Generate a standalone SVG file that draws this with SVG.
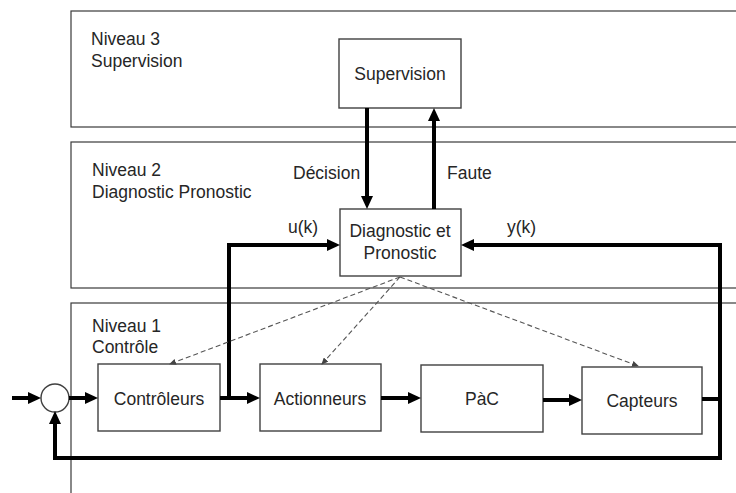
<svg xmlns="http://www.w3.org/2000/svg" width="736" height="493" viewBox="0 0 736 493">
<style>
  .lvl { fill: none; stroke: #3a3a3a; stroke-width: 1.2; }
  .box { fill: #ffffff; stroke: #404040; stroke-width: 1.4; }
  text { font-family: "Liberation Sans", Arial, sans-serif; font-size: 17.5px; fill: #262626; }
  .c { text-anchor: middle; }
  .thick { fill: none; stroke: #000000; stroke-width: 4; stroke-linejoin: miter; }
  .dash { fill: none; stroke: #555555; stroke-width: 1.1; stroke-dasharray: 5 3; }
</style>
<defs>
  <marker id="ah" markerUnits="userSpaceOnUse" markerWidth="13" markerHeight="12" refX="5" refY="6" orient="auto">
    <path d="M0,0 L13,6 L0,12 z" fill="#000000"/>
  </marker>
  <marker id="dh" markerUnits="userSpaceOnUse" markerWidth="7" markerHeight="6" refX="6" refY="3" orient="auto">
    <path d="M0,0 L7,3 L0,6 z" fill="#444444"/>
  </marker>
</defs>

<rect fill="#ffffff" x="0" y="0" width="736" height="493"/>

<g id="niveau3">
  <rect class="lvl" x="71" y="11" width="700" height="116"/>
  <text x="91" y="45">Niveau 3</text>
  <text x="91" y="67">Supervision</text>
</g>
<g id="niveau2">
  <rect class="lvl" x="71" y="142" width="700" height="146"/>
  <text x="92" y="176">Niveau 2</text>
  <text x="92" y="198">Diagnostic Pronostic</text>
</g>
<g id="niveau1">
  <rect class="lvl" x="71" y="303" width="700" height="220"/>
  <text x="92" y="332">Niveau 1</text>
  <text x="92" y="353">Contrôle</text>
</g>

<g id="supervision">
  <rect class="box" x="339" y="39" width="122" height="69"/>
  <text class="c" x="400" y="80">Supervision</text>
</g>
<g id="diagnostic">
  <rect class="box" x="340" y="209" width="121" height="67"/>
  <text class="c" x="400" y="237">Diagnostic et</text>
  <text class="c" x="400" y="259">Pronostic</text>
</g>
<g id="sommateur">
  <circle cx="55" cy="398" r="14" fill="#ffffff" stroke="#404040" stroke-width="1.4"/>
</g>
<g id="controleurs">
  <rect class="box" x="98" y="364" width="122" height="67"/>
  <text class="c" x="159" y="405">Contrôleurs</text>
</g>
<g id="actionneurs">
  <rect class="box" x="260" y="364" width="121" height="67"/>
  <text class="c" x="320" y="405">Actionneurs</text>
</g>
<g id="pac">
  <rect class="box" x="421" y="365" width="122" height="67"/>
  <text class="c" x="482" y="405">PàC</text>
</g>
<g id="capteurs">
  <rect class="box" x="582" y="367" width="120" height="67"/>
  <text class="c" x="642" y="407">Capteurs</text>
</g>

<g id="connecteurs">
  <path class="thick" d="M367,108 V201" marker-end="url(#ah)"/>
  <path class="thick" d="M434,209 V116" marker-end="url(#ah)"/>
  <path class="thick" d="M229,400 V245 H332" marker-end="url(#ah)"/>
  <path class="thick" d="M702,399 H720 V245 H469" marker-end="url(#ah)"/>
  <path class="thick" d="M720,397 V458 H55 V419" marker-end="url(#ah)"/>
  <path class="thick" d="M12,398 H33" marker-end="url(#ah)"/>
  <path class="thick" d="M69,398 H90" marker-end="url(#ah)"/>
  <path class="thick" d="M220,398 H252" marker-end="url(#ah)"/>
  <path class="thick" d="M381,398 H413" marker-end="url(#ah)"/>
  <path class="thick" d="M543,400 H574" marker-end="url(#ah)"/>
  <path class="dash" d="M400,277 L170,364" marker-end="url(#dh)"/>
  <path class="dash" d="M400,277 L322,364" marker-end="url(#dh)"/>
  <path class="dash" d="M400,277 L638,366" marker-end="url(#dh)"/>
  <text x="293" y="179">Décision</text>
  <text x="447" y="179">Faute</text>
  <text x="288" y="233">u(k)</text>
  <text x="507" y="233">y(k)</text>
</g>
</svg>
